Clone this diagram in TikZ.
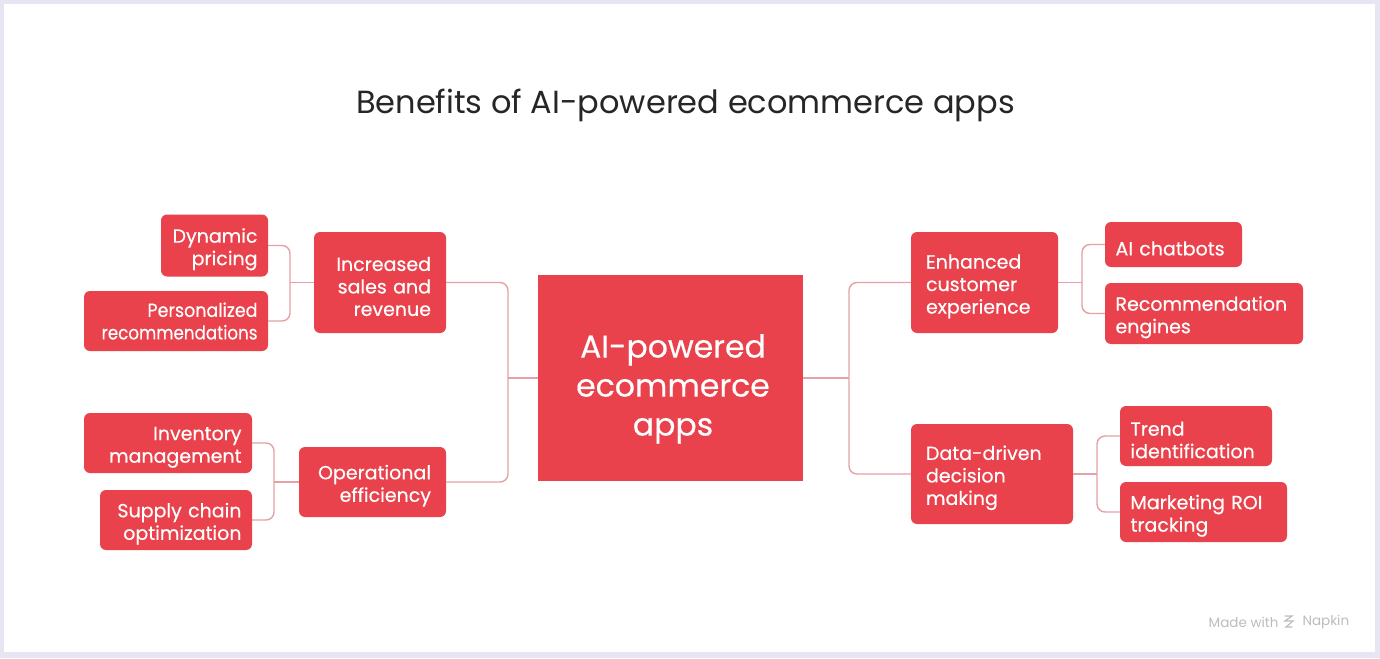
\documentclass[tikz,border=0pt]{standalone}
\usepackage{fontspec}
\setmainfont{Poppins}
\newfontfamily\boxfont{Poppins}[FakeBold=0.4]
\newcommand\tp{\rule{0pt}{22pt}}
\definecolor{boxred}{HTML}{E9424C}
\definecolor{linkpink}{HTML}{E6A1A6}
\definecolor{frame}{HTML}{E6E6F3}
\definecolor{titlegray}{HTML}{262626}
\definecolor{napgray}{HTML}{BDBDBD}
\begin{document}
\begin{tikzpicture}[x=1pt,y=-1pt,
  box/.style={fill=boxred, rounded corners=6pt, text=white, inner ysep=0pt,
    font=\boxfont\fontsize{19}{22.5}\selectfont},
  leaf/.style={box, inner xsep=10.5pt},
  mid/.style={box, inner xsep=15pt},
  conn/.style={draw=linkpink, line width=1.4pt, rounded corners=8pt}]
\useasboundingbox (0,0) rectangle (1380,658);
\fill[frame] (0,0) rectangle (1380,658);
\fill[white] (4,4) rectangle (1375,652);

\node[font=\fontsize{32}{38}\selectfont, text=titlegray, anchor=base] (title) at (685.5,113.5) {Benefits of AI-powered ecommerce apps};

% center
\node[fill=boxred, minimum width=265pt, minimum height=206pt, inner sep=0pt] (center) at (670.5,378) {};
\node[text=white, align=center, font=\boxfont\fontsize{31.5}{39}\selectfont, inner sep=0pt] (ctext) at (673,389) {AI-powered\\ecommerce\\apps};

% left
\node[leaf, align=right, minimum width=107pt, minimum height=62pt, text width=86pt] (dp) at (214.5,245.5) {\tp Dynamic\\pricing};
\node[leaf, align=right, minimum width=184pt, minimum height=60pt, text width=163pt] (pr) at (176,321) {{\addfontfeature{FakeStretch=0.92}Personalized}\\{\addfontfeature{FakeStretch=0.88}recommendations}};
\node[mid, align=right, minimum width=132pt, minimum height=101pt, text width=102pt] (sr) at (380,282.5) {\tp Increased\\sales and\\revenue};
\node[leaf, align=right, minimum width=168pt, minimum height=60pt, text width=147pt] (im) at (168,443) {\tp Inventory\\management};
\node[leaf, align=right, minimum width=152pt, minimum height=60pt, text width=131pt] (sc) at (176,520) {\tp Supply chain\\optimization};
\node[mid, align=right, minimum width=147pt, minimum height=70pt, text width=117pt] (oe) at (372.5,482) {\tp Operational\\efficiency};

% right
\node[mid, align=left, minimum width=147pt, minimum height=101pt, text width=117pt] (ec) at (984.5,282.5) {\tp Enhanced\\customer\\experience};
\node[leaf, align=left, minimum width=137pt, minimum height=45pt, text width=116pt] (ai) at (1173.5,244.5) {\tp AI chatbots};
\node[leaf, align=left, minimum width=198pt, minimum height=61pt, text width=177pt] (re) at (1204,313.5) {\tp Recommendation\\engines};
\node[mid, align=left, minimum width=162pt, minimum height=100pt, text width=132pt] (dd) at (992,474) {\tp Data-driven\\decision\\making};
\node[leaf, align=left, minimum width=152pt, minimum height=60pt, text width=131pt] (ti) at (1196,436) {\tp Trend\\identification};
\node[leaf, align=left, minimum width=167pt, minimum height=60pt, text width=146pt] (mr) at (1203.5,512) {\tp Marketing ROI\\tracking};

% hubs
\coordinate (hL) at (508,378);
\coordinate (hR) at (849,378);
\coordinate (h1) at (290,282.5);
\coordinate (h2) at (274,482);
\coordinate (h3) at (1082,282.5);
\coordinate (h4) at (1097,474);

\draw[conn] (center.west) -- (hL);
\draw[conn] (sr.east) -| (hL) |- (oe.east);
\draw[conn] (center.east) -- (hR);
\draw[conn] (ec.west) -| (hR) |- (dd.west);
\draw[conn] (sr.west) -- (h1);
\draw[conn] (dp.east) -| (h1) |- (pr.east);
\draw[conn] (oe.west) -- (h2);
\draw[conn] (im.east) -| (h2) |- (sc.east);
\draw[conn] (ec.east) -- (h3);
\draw[conn] (ai.west) -| (h3) |- (re.west);
\draw[conn] (dd.east) -- (h4);
\draw[conn] (ti.west) -| (h4) |- (mr.west);

% footer
\node[font=\fontsize{13.5}{15}\selectfont, text=napgray, anchor=east] (made) at (1282,622) {Made with};
\node[font=\fontsize{13.5}{15}\selectfont, text=napgray, anchor=west] (napkin) at (1299,622) {Napkin};
\draw[napgray, line width=1.2pt, line cap=round] (1285,616) -- (1292,616) -- (1285,621) -- (1293,621) -- (1286,627) -- (1292,627);
\end{tikzpicture}
\end{document}
